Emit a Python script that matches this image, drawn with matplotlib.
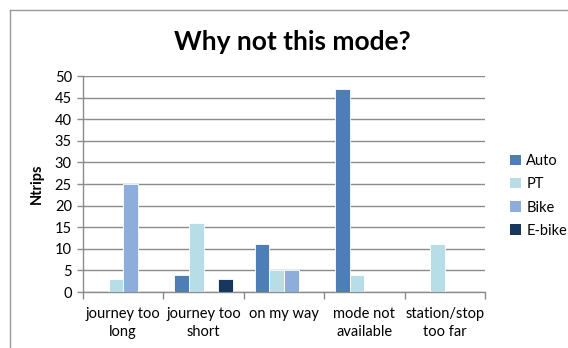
import matplotlib
matplotlib.use("Agg")
import matplotlib.pyplot as plt
import numpy as np
from matplotlib.patches import Patch
from matplotlib.lines import Line2D

plt.rcParams['font.family'] = ['Lato', 'DejaVu Sans']

categories = ["journey too\nlong", "journey too\nshort", "on my way",
              "mode not\navailable", "station/stop\ntoo far"]
series_names = ["Auto", "PT", "Bike", "E-bike"]
auto = [0, 4, 11, 47, 0]
pt = [3, 16, 5, 4, 11]
bike = [25, 0, 5, 0, 0]
ebike = [0, 3, 0, 0, 0]
colors = ["#4F7DB6", "#B7DDE6", "#8DAEDB", "#17375E"]
yticks = [0, 5, 10, 15, 20, 25, 30, 35, 40, 45, 50]

fig = plt.figure(figsize=(5.68, 3.48), dpi=100)
ax = fig.add_axes([83/568, 1-292/348, (485-83)/568, (292-76)/348])

n = len(categories)
x = np.arange(n)
width = 1/5.5
values = [auto, pt, bike, ebike]
for i, (vals, c) in enumerate(zip(values, colors)):
    offs = (i - 1.5) * width
    ax.bar(x + offs, vals, width=width, color=c, edgecolor="white",
           linewidth=0.6, zorder=3)

ax.set_xlim(-0.5, n - 0.5)
ax.set_ylim(0, 50)
ax.set_yticks(yticks)
ax.set_yticklabels([str(v) for v in yticks], fontsize=10.5)
ax.yaxis.grid(True, color="#8C8C8C", linewidth=1.0, zorder=0)
ax.set_axisbelow(True)

ax.set_xticks(x)
ax.set_xticklabels(categories, fontsize=10.5, linespacing=1.35)
ax.tick_params(axis="x", length=0, pad=11)
ax.set_xticks(np.arange(-0.5, n, 1.0), minor=True)
ax.tick_params(axis="x", which="minor", length=5, color="#8C8C8C", width=1)
ax.tick_params(axis="y", length=4, color="#8C8C8C", width=1, pad=4)

for s in ["top", "right"]:
    ax.spines[s].set_visible(False)
for s in ["left", "bottom"]:
    ax.spines[s].set_color("#8C8C8C")
    ax.spines[s].set_linewidth(1.0)

ax.set_ylabel("Ntrips", fontsize=10.5, fontweight="bold", labelpad=8)

fig.text(292/568, 1-42/348, "Why not this mode?", fontsize=19,
         fontweight="bold", ha="center", va="center")

handles = [Patch(facecolor=c, edgecolor="none") for c in colors]
fig.legend(handles, series_names, loc="center left",
           bbox_to_anchor=(503/568, 1-196/348), frameon=False,
           fontsize=10.5, handlelength=0.7, handleheight=0.7,
           handletextpad=0.4, labelspacing=0.62, borderpad=0)

# thin frame along the top and left edge
fig.add_artist(Line2D([9.5/568, 1], [1-9.5/348, 1-9.5/348],
                      transform=fig.transFigure, color="#9A9A9A", lw=1.0))
fig.add_artist(Line2D([9.5/568, 9.5/568], [0, 1-9.5/348],
                      transform=fig.transFigure, color="#9A9A9A", lw=1.0))

fig.savefig("out.png", dpi=100, facecolor="white")
